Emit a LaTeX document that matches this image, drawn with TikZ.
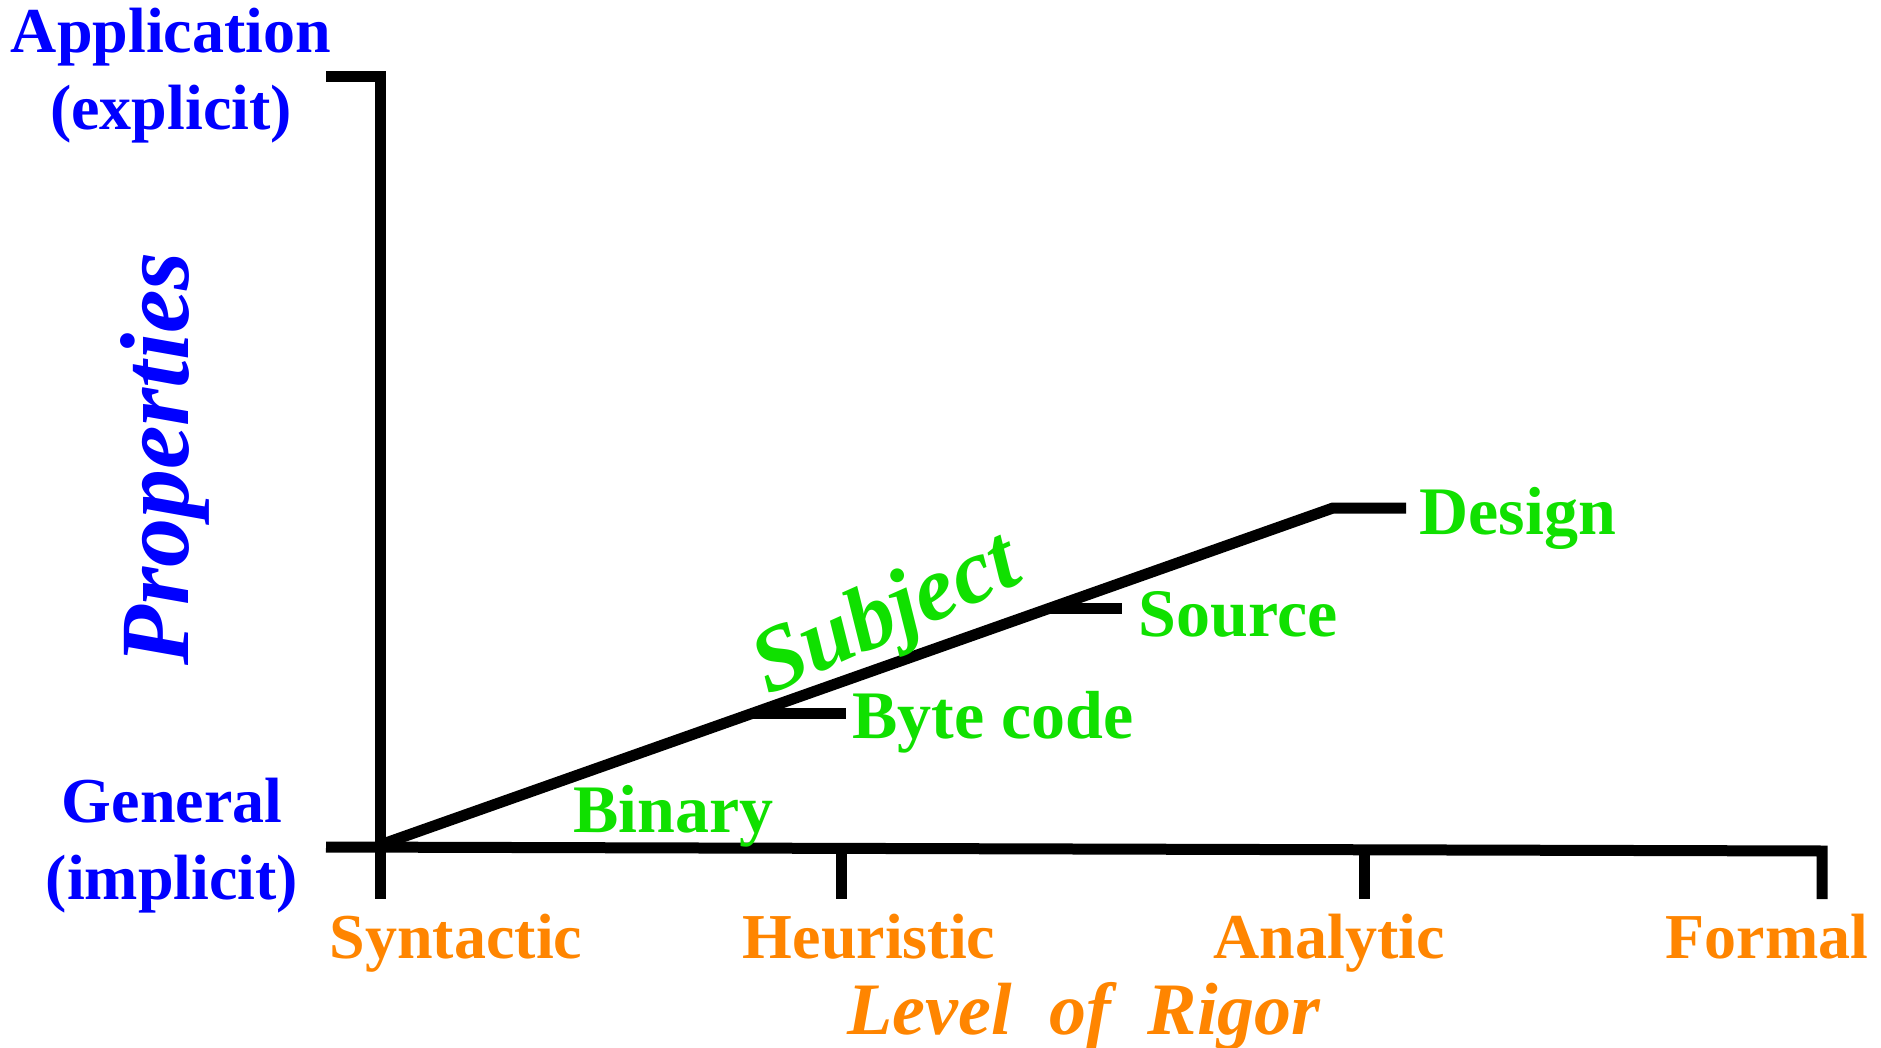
\documentclass[tikz,border=0pt]{standalone}
\usepackage{fontspec}
\setmainfont{Liberation Serif}
\usetikzlibrary{calc}

\definecolor{propblue}{RGB}{0,0,255}
\definecolor{rigororange}{RGB}{255,133,0}
\definecolor{subjgreen}{RGB}{16,224,0}

\begin{document}
\begin{tikzpicture}[x=0.5pt, y=-0.5pt, line width=5.5pt, miter limit=4]
  \tikzset{
    proplbl/.style={text=propblue, inner sep=0pt, anchor=base,
      font=\fontsize{32}{35}\selectfont\bfseries},
    rigorlbl/.style={text=rigororange, inner sep=0pt, anchor=base,
      font=\fontsize{32}{35}\selectfont\bfseries},
    subjlbl/.style={text=subjgreen, inner sep=0pt, anchor=base west,
      font=\fontsize{34}{37}\selectfont\bfseries},
  }
  \useasboundingbox (0,0) rectangle (1881,1048);

  % axes
  \coordinate (O) at (380,847);
  \coordinate (top) at (380,77);
  \coordinate (xend) at (1822,851);
  \draw (326,77) -- (top) -- (380,899);
  \draw (326,847) -- (xend) -- (1822,899);
  \draw (841,849) -- (841,899);
  \draw (1364,850) -- (1364,899);

  % subject line
  \coordinate (start) at (380,845);
  \coordinate (bend) at (1333,508);
  \draw (start) -- (bend) -- ++(73,0) coordinate (dsgn);
  \coordinate (bc) at ($(start)!0.39!(bend)$);
  \coordinate (src) at ($(start)!0.701!(bend)$);
  \draw (bc) -- ++(94,0) coordinate (bcend);
  \draw (src) -- ++(74,0) coordinate (srcend);

  % vertical axis labels
  \node[proplbl] (appl) at (171,53) {Application};
  \node[proplbl] (applexpl) at (171,130) {(explicit)};
  \node[proplbl] (gen) at (172,822) {General};
  \node[proplbl] (genimpl) at (172,899) {(implicit)};
  \node[proplbl, rotate=90, font=\fontsize{49}{52}\selectfont\bfseries\itshape]
    (prop) at (188,459) {Properties};

  % horizontal axis labels
  \node[rigorlbl] (syn) at (456,958) {Syntactic};
  \node[rigorlbl] (heur) at (869,958) {Heuristic};
  \node[rigorlbl] (anal) at (1329,958) {Analytic};
  \node[rigorlbl] (form) at (1767,958) {Formal};
  \node[rigorlbl, font=\fontsize{37}{40}\selectfont\bfseries\itshape]
    (rigor) at (1084,1034) {Level~~of~~Rigor};

  % subject labels
  \node[subjlbl] (design) at (1414,534) {Design};
  \node[subjlbl] (source) at (1133,636) {Source};
  \node[subjlbl] (bytecode) at (847,738) {Byte code};
  \node[subjlbl] (binary) at (568,832) {Binary};
  \node[subjlbl, rotate=24, font=\fontsize{46}{49}\selectfont\bfseries\itshape]
    (subj) at (763,698) {Subject};
\end{tikzpicture}
\end{document}
